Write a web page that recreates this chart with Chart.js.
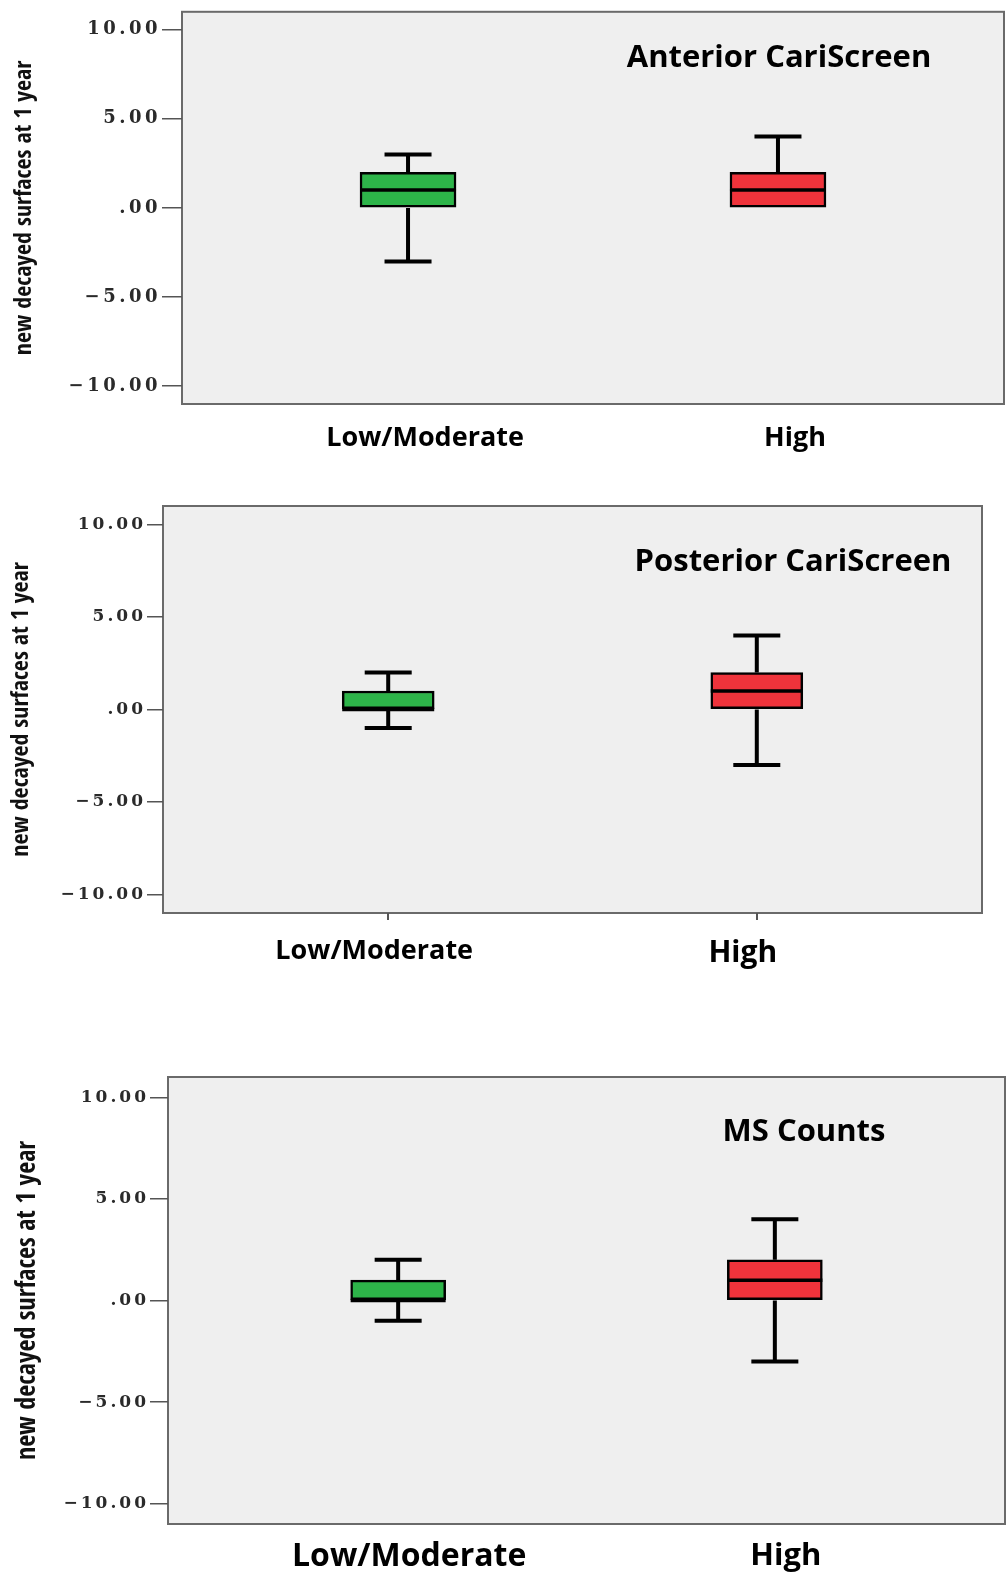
<!DOCTYPE html>
<html>
<head>
<meta charset="utf-8">
<script src="https://cdn.jsdelivr.net/npm/chart.js@4.4.0/dist/chart.umd.min.js"></script>
<style>
  html, body { margin: 0; padding: 0; background: #fff; }
  body { width: 1007px; height: 1577px; position: relative; overflow: hidden; }
  .panel { position: absolute; left: 0; width: 1007px; }
</style>
</head>
<body>
<div class="panel" style="top:0;height:470px"><canvas id="chart1"></canvas></div>
<div class="panel" style="top:470px;height:530px"><canvas id="chart2"></canvas></div>
<div class="panel" style="top:1030px;height:547px"><canvas id="chart3"></canvas></div>
<script>
// data
const categories = ['Low/Moderate', 'High'];
const yTicks = [-10, -5, 0, 5, 10];
const titles = ['Anterior CariScreen', 'Posterior CariScreen', 'MS Counts'];
const yTitle = 'new decayed surfaces at 1 year';

const anteriorMin = [-3, 0];
const anteriorQ1 = [0, 0];
const anteriorMedian = [1, 1];
const anteriorQ3 = [2, 2];
const anteriorMax = [3, 4];

const posteriorMin = [-1, -3];
const posteriorQ1 = [0, 0];
const posteriorMedian = [0, 1];
const posteriorQ3 = [1, 2];
const posteriorMax = [2, 4];

const msMin = [-1, -3];
const msQ1 = [0, 0];
const msMedian = [0, 1];
const msQ3 = [1, 2];
const msMax = [2, 4];

const boxColors = ['#2db449', '#ef333b'];

// layout of each panel (canvas coords)
const panels = [
  { id: 'chart1', h: 470, left: 182, right: 1004, top: 7, bottom: 404, tickLen: 20, tickSize: 18, spacing: '3.5px', xTicks: false,
    labelSizes: [27, 27], labelPad: 18, labelOffset: 17, yTitleSize: 24, yTitlePad: 10, titleX: 779, titleY: 67, boxW: 96, capW: 47,
    stats: [anteriorMin, anteriorQ1, anteriorMedian, anteriorQ3, anteriorMax] },
  { id: 'chart2', h: 530, left: 163, right: 982, top: 36, bottom: 443, tickLen: 16, tickSize: 17, spacing: '3px', xTicks: true,
    labelSizes: [27, 30], labelPad: 15, labelOffset: -14, yTitleSize: 24, yTitlePad: 7, titleX: 793, titleY: 101, boxW: 92, capW: 47,
    stats: [posteriorMin, posteriorQ1, posteriorMedian, posteriorQ3, posteriorMax] },
  { id: 'chart3', h: 547, left: 168, right: 1005, top: 47, bottom: 494, tickLen: 18, tickSize: 17, spacing: '3px', xTicks: false,
    labelSizes: [32, 31], labelPad: 14, labelOffset: 11, yTitleSize: 26, yTitlePad: 13, titleX: 804, titleY: 111, boxW: 95, capW: 47,
    stats: [msMin, msQ1, msMedian, msQ3, msMax] }
];

const boxPlot = {
  id: 'boxPlot',
  beforeDraw(chart) {
    const ctx = chart.ctx, a = chart.chartArea;
    ctx.letterSpacing = '0px';
    ctx.save();
    ctx.fillStyle = '#efefef';
    ctx.fillRect(a.left, a.top, a.right - a.left, a.bottom - a.top);
    ctx.strokeStyle = '#6a6a6a';
    ctx.lineWidth = 2;
    ctx.strokeRect(a.left, a.top, a.right - a.left, a.bottom - a.top);
    ctx.restore();
  },
  afterDatasetsDraw(chart, args, opts) {
    const ctx = chart.ctx;
    const x = chart.scales.x, y = chart.scales.y;
    const [mins, q1s, meds, q3s, maxs] = opts.stats;
    ctx.save();
    ctx.strokeStyle = '#000';
    ctx.lineCap = 'butt';
    chart.getDatasetMeta(0).data.forEach((bar, i) => {
      const cx = x.getPixelForValue(i + 1);
      const half = bar.width / 2;
      const capHalf = opts.capW / 2;
      // median
      ctx.lineWidth = 3.5;
      ctx.beginPath();
      ctx.moveTo(cx - half, y.getPixelForValue(meds[i]));
      ctx.lineTo(cx + half, y.getPixelForValue(meds[i]));
      ctx.stroke();
      // whiskers and caps
      ctx.lineWidth = 4;
      [[q3s[i], maxs[i]], [q1s[i], mins[i]]].forEach(([from, to]) => {
        if (from === to) return;
        const py = y.getPixelForValue(to);
        ctx.beginPath();
        ctx.moveTo(cx, y.getPixelForValue(from));
        ctx.lineTo(cx, py);
        ctx.moveTo(cx - capHalf, py);
        ctx.lineTo(cx + capHalf, py);
        ctx.stroke();
      });
    });
    ctx.restore();
    // wide spacing for the y tick labels drawn next (ticks z = 1)
    ctx.letterSpacing = opts.spacing;
  },
  afterDraw(chart, args, opts) {
    const ctx = chart.ctx;
    ctx.letterSpacing = '0px';
    ctx.save();
    ctx.fillStyle = '#000';
    ctx.font = 'bold 31px "Open Sans"';
    ctx.textAlign = 'center';
    ctx.textBaseline = 'alphabetic';
    ctx.fillText(opts.title, opts.titleX, opts.titleY);
    ctx.restore();
  }
};

panels.forEach((p, k) => {
  const [mins, q1s, meds, q3s, maxs] = p.stats;
  new Chart(document.getElementById(p.id), {
    type: 'bar',
    data: {
      datasets: [{
        data: categories.map((c, i) => ({ x: i + 1, y: [q1s[i], q3s[i]] })),
        backgroundColor: boxColors,
        borderColor: '#000',
        borderWidth: 2.5,
        borderSkipped: false,
        barThickness: p.boxW
      }]
    },
    options: {
      responsive: true,
      maintainAspectRatio: false,
      animation: false,
      layout: { padding: { top: p.top, right: 1007 - p.right, left: 0, bottom: 0 } },
      plugins: {
        legend: { display: false },
        tooltip: { enabled: false },
        boxPlot: { stats: p.stats, capW: p.capW, title: titles[k], titleX: p.titleX, titleY: p.titleY, spacing: p.spacing }
      },
      scales: {
        x: {
          type: 'linear',
          offset: false,
          min: 0.389,
          max: 2.611,
          afterDataLimits: s => { s.min = 0.389; s.max = 2.611; },
          afterBuildTicks: s => { s.ticks = categories.map((c, i) => ({ value: i + 1 })); },
          afterFit: s => { s.height = p.h - p.bottom; },
          border: { display: false },
          grid: { display: true, offset: false, drawOnChartArea: false, drawTicks: p.xTicks, tickLength: 7, color: '#555', lineWidth: 2 },
          ticks: {
            autoSkip: false,
            maxRotation: 0,
            padding: p.labelPad,
            labelOffset: p.labelOffset,
            color: '#000',
            font: c => ({ family: '"Open Sans"', weight: 'bold', size: p.labelSizes[c.index] || 27 }),
            callback: v => categories[v - 1]
          }
        },
        y: {
          min: -11,
          max: 11,
          afterBuildTicks: s => { s.ticks = yTicks.map(v => ({ value: v })); },
          afterFit: s => { s.width = p.left; },
          border: { display: false },
          grid: { display: true, drawOnChartArea: false, drawTicks: true, tickLength: p.tickLen, color: '#555', lineWidth: 1.5 },
          ticks: {
            z: 1,
            padding: 1,
            color: '#2a2a2a',
            font: { family: 'DejaVu Serif', weight: 'bold', size: p.tickSize },
            callback: v => v === 0 ? '.00' : v.toFixed(2).replace('-', '\u2212')
          },
          title: {
            display: true,
            text: yTitle,
            color: '#111',
            padding: { top: p.yTitlePad, bottom: 0 },
            font: { family: '"Open Sans Condensed", "Roboto Condensed", "DejaVu Sans Condensed", "Open Sans"', weight: 'normal condensed', size: p.yTitleSize }
          }
        }
      }
    },
    plugins: [boxPlot]
  });
});
</script>
</body>
</html>
